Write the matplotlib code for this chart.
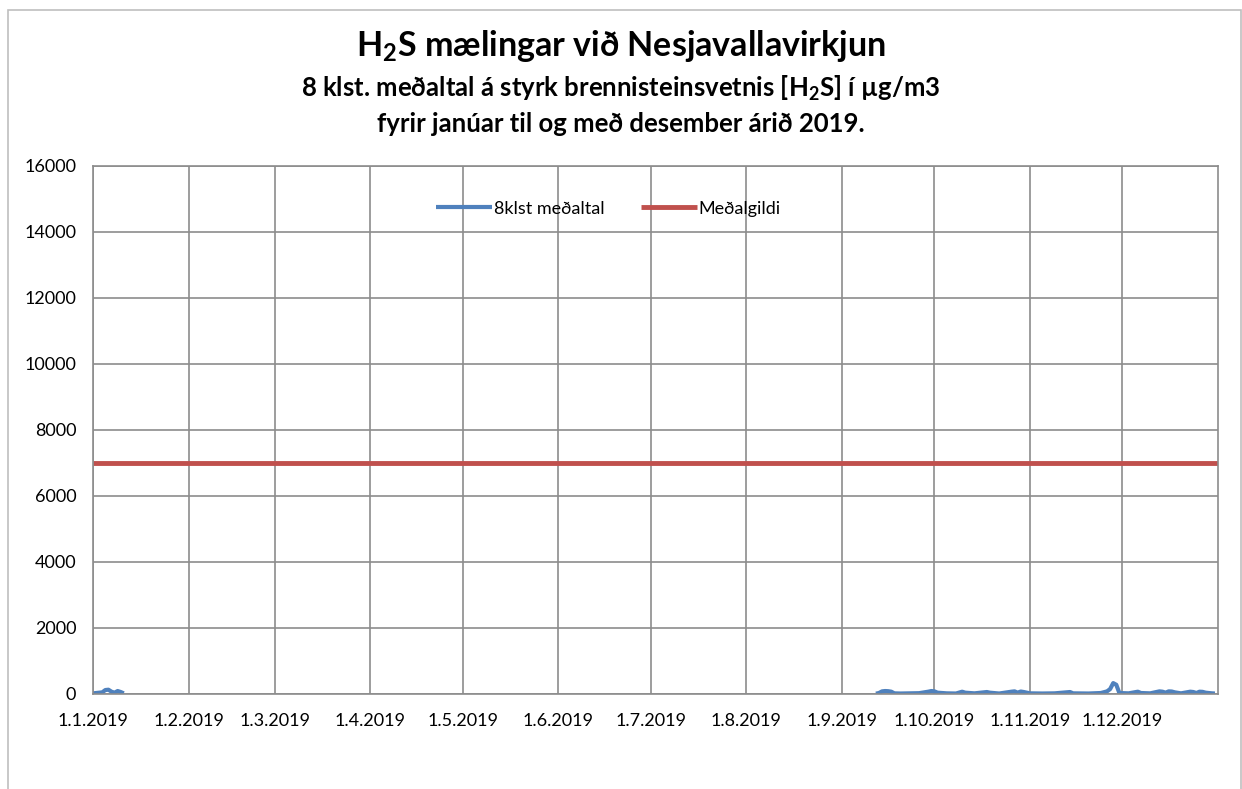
# H2S mælingar við Nesjavallavirkjun - 8 klst. meðaltal 2019
import numpy as np
import pandas as pd
import matplotlib.pyplot as plt
from matplotlib.patches import Rectangle

plt.rcParams["font.family"] = ["Lato", "DejaVu Sans"]
plt.rcParams["mathtext.default"] = "regular"

# ---------------- Data ----------------

# 8 hour averages (µg/m3), NaN = no measurements
AVG_DATES = [
    "2019-01-01", "2019-01-02", "2019-01-03", "2019-01-04", "2019-01-05",
    "2019-01-06", "2019-01-07", "2019-01-08", "2019-01-09", "2019-01-10",
    "2019-01-11", "2019-01-12",
    "2019-09-12", "2019-09-13", "2019-09-14", "2019-09-15", "2019-09-16",
    "2019-09-17", "2019-09-18", "2019-09-20", "2019-09-23", "2019-09-26",
    "2019-09-29", "2019-09-30", "2019-10-01", "2019-10-02", "2019-10-05",
    "2019-10-08", "2019-10-10", "2019-10-11", "2019-10-14", "2019-10-18",
    "2019-10-19", "2019-10-22", "2019-10-26", "2019-10-27", "2019-10-28",
    "2019-10-29", "2019-10-30", "2019-11-01", "2019-11-05", "2019-11-09",
    "2019-11-14", "2019-11-15", "2019-11-20", "2019-11-24", "2019-11-26",
    "2019-11-27", "2019-11-28", "2019-11-29", "2019-11-30", "2019-12-03",
    "2019-12-06", "2019-12-07", "2019-12-10", "2019-12-12", "2019-12-13",
    "2019-12-14", "2019-12-15", "2019-12-16", "2019-12-17", "2019-12-18",
    "2019-12-20", "2019-12-23", "2019-12-24", "2019-12-25", "2019-12-26",
    "2019-12-27", "2019-12-28", "2019-12-30", "2019-12-31",
]
AVG_VALUES = [
    20, 30, 40, 50, 120,
    130, 70, 40, 90, 60,
    20, np.nan,
    10, 30, 80, 90, 85,
    70, 20, 15, 20, 25,
    70, 90, 80, 40, 20,
    15, 70, 40, 20, 60,
    40, 15, 70, 80, 40,
    75, 60, 20, 15, 20,
    60, 20, 15, 30, 80,
    150, 330, 280, 30, 20,
    70, 30, 20, 60, 80,
    70, 40, 80, 75, 50,
    20, 70, 60, 30, 70,
    65, 40, 20, 15,
]

# Mean value line
MEAN_DATES = ["2019-01-01", "2020-01-01"]
MEAN_VALUES = [7000, 7000]

MONTH_TICKS = pd.date_range("2019-01-01", "2019-12-01", freq="MS")
MONTH_LABELS = [f"1.{d.month}.2019" for d in MONTH_TICKS]

Y_TICKS = np.arange(0, 16001, 2000)

BLUE = "#4F81BD"
RED = "#C0504D"
GRID = "#8C8C8C"

# ---------------- Plot ----------------

fig = plt.figure(figsize=(12.42, 7.89), dpi=100)

# chart frame (Excel chart border)
fig.patches.append(Rectangle((8 / 1242, -0.01), 1233 / 1242, 0.997,
                             transform=fig.transFigure, fill=False,
                             edgecolor="#BFBFBF", linewidth=1.2))

ax = fig.add_axes([93 / 1242, 95 / 789, 1125 / 1242, 528 / 789])

ax.plot(pd.to_datetime(AVG_DATES), AVG_VALUES, color=BLUE, linewidth=3,
        label="8klst meðaltal", solid_capstyle="butt")
ax.plot(pd.to_datetime(MEAN_DATES), MEAN_VALUES, color=RED, linewidth=3.5,
        label="Meðalgildi", solid_capstyle="butt")

ax.set_xlim(pd.Timestamp("2019-01-01"), pd.Timestamp("2020-01-01"))
ax.set_ylim(0, 16000)
ax.set_xticks(MONTH_TICKS)
ax.set_xticklabels(MONTH_LABELS, fontsize=13)
ax.set_yticks(Y_TICKS)
ax.set_yticklabels([str(v) for v in Y_TICKS], fontsize=13)
ax.tick_params(length=0, pad=12)
ax.tick_params(axis="x", pad=14)

ax.grid(True, color=GRID, linewidth=1.2)
ax.set_axisbelow(True)
for s in ax.spines.values():
    s.set_color(GRID)
    s.set_linewidth(1.2)

ax.legend(loc="upper center", bbox_to_anchor=(0.458, 0.965), ncol=2,
          frameon=False, fontsize=13, handlelength=3.1, handletextpad=0.1,
          columnspacing=2.0)

fig.text(0.5, 0.942, r"H$_2$S mælingar við Nesjavallavirkjun",
         ha="center", va="center", fontsize=24.5, fontweight="bold")
fig.text(0.5, 0.888, r"8 klst. meðaltal á styrk brennisteinsvetnis [H$_2$S] í µg/m3",
         ha="center", va="center", fontsize=18.5, fontweight="bold")
fig.text(0.5, 0.843, "fyrir janúar til og með desember árið 2019.",
         ha="center", va="center", fontsize=18.5, fontweight="bold")

fig.savefig("out.png", dpi=100)
